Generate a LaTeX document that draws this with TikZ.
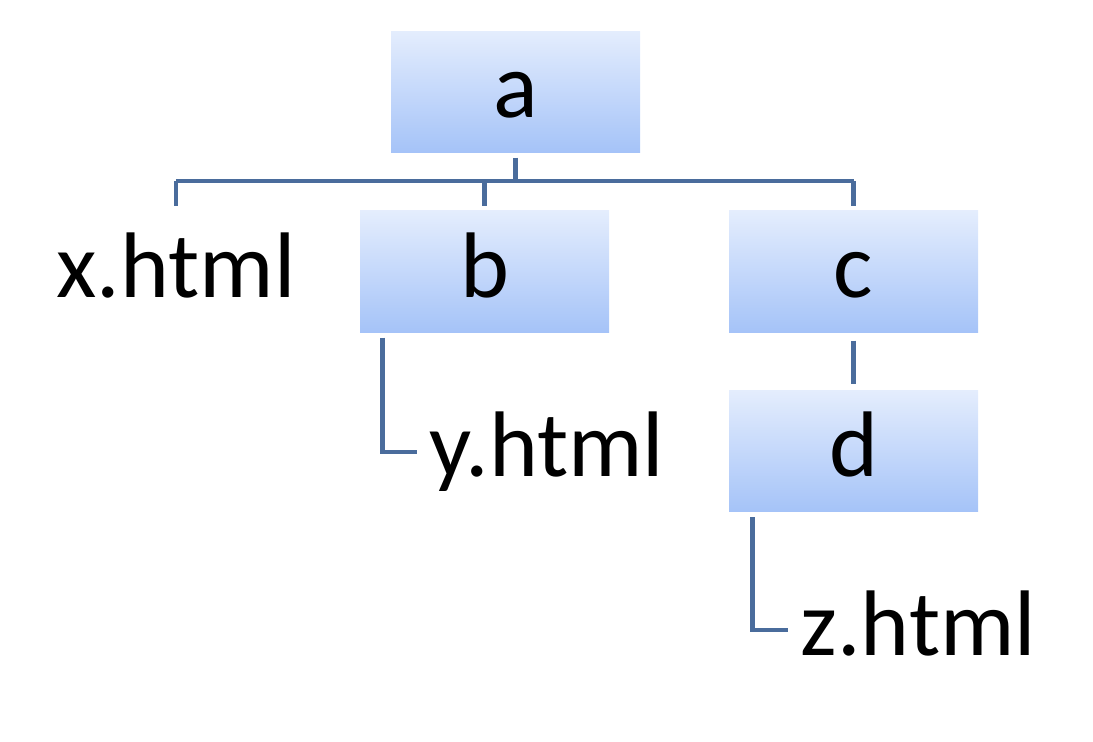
\documentclass[tikz,border=0pt]{standalone}
\usepackage{fontspec}
\setmainfont{Carlito}
\usepackage{tikz}
\usetikzlibrary{positioning,calc}

\definecolor{boxtop}{HTML}{E4EDFD}
\definecolor{boxbottom}{HTML}{A5C3F8}
\definecolor{linkblue}{HTML}{4A6C9C}

\tikzset{
	box/.style={shade, top color=boxtop, bottom color=boxbottom, inner sep=0pt,
		minimum width=2.49cm, text height=0.86cm, text depth=0.35cm,
		font=\fontsize{26.5}{30}\selectfont},
	leaf/.style={inner sep=0pt, font=\fontsize{26.5}{30}\selectfont},
	link/.style={draw=linkblue, line width=1.4pt}
}

\begin{document}
\begin{tikzpicture}
				\useasboundingbox (0,0) rectangle (10.93,7.41);
				\node[box] (a) at (5.155,6.495) {a};
				\node[box] (b) at (4.845,4.695) {b};
				\node[box] (c) at (8.535,4.695) {c};
				\node[box] (d) at (8.535,2.90)  {d};
				\node[leaf, anchor=base] (xh) at (1.76,4.44) {x.html};
				\node[leaf, anchor=base west] (yh) at (4.29,2.64) {y.html};
				\node[leaf, anchor=base west] (zh) at (8.00,0.86) {z.html};
				\coordinate (bus) at (5.155,5.60);
				\draw[link] ([yshift=-0.05cm]a.south) -- (bus);
				\draw[link] (xh |- bus) -- (c |- bus);
				\draw[link] (xh |- bus) -- ([yshift=0.26cm]xh.north);
				\draw[link] (b |- bus) -- ([yshift=0.04cm]b.north);
				\draw[link] (c |- bus) -- ([yshift=0.04cm]c.north);
				\draw[link] ([xshift=0.23cm,yshift=-0.05cm]b.south west) |- ([xshift=-0.12cm,yshift=0.25cm]yh.base west);
				\draw[link] ([yshift=-0.08cm]c.south) -- ([yshift=0.06cm]d.north);
				\draw[link] ([xshift=0.24cm,yshift=-0.05cm]d.south west) |- ([xshift=-0.12cm,yshift=0.25cm]zh.base west);
			\end{tikzpicture}
\end{document}
